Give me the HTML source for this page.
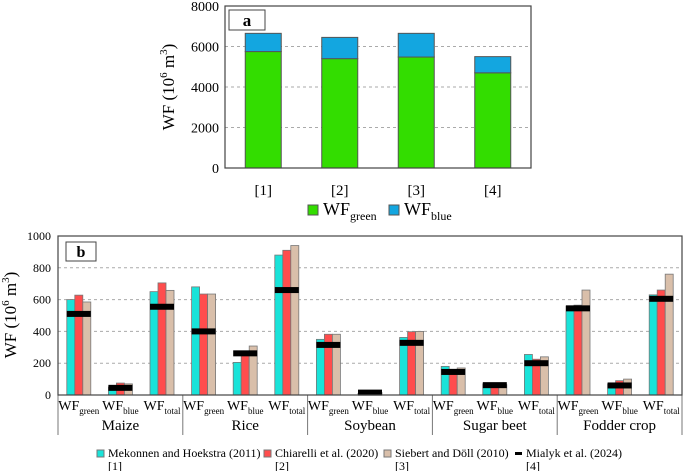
<!DOCTYPE html>
<html><head><meta charset="utf-8"><style>
body{margin:0;background:#fff;}
svg{display:block;}
svg text{font-family:"Liberation Serif","DejaVu Serif",serif;}
</style></head><body>
<svg id="svg" width="685" height="471" font-family="Liberation Serif, serif"></svg>
<script>
const aCats=["[1]","[2]","[3]","[4]"];
const aGreen=[5750,5400,5480,4700];
const aBlue=[900,1050,1170,800];
const aTicks=[0,2000,4000,6000,8000];
const bGroups=["Maize","Rice","Soybean","Sugar beet","Fodder crop"];
const bSubs=["green","blue","total"];
const bMek=[600,50,650,680,205,880,350,10,362,180,70,255,560,70,630];
const bChi=[628,75,705,635,265,910,382,15,398,162,65,225,565,90,660];
const bSie=[585,70,658,635,308,940,382,15,400,170,65,240,660,100,760];
const bMia=[510,45,555,400,262,660,315,15,328,145,62,200,545,60,605];
const bTicks=[0,200,400,600,800,1000];
const ns="http://www.w3.org/2000/svg",svg=document.getElementById("svg");
function el(t,a,txt){const e=document.createElementNS(ns,t);for(const k in a)e.setAttribute(k,a[k]);if(t==="text")e.setAttribute("font-family","Liberation Serif, serif");if(txt!==undefined)e.textContent=txt;svg.appendChild(e);return e;}
// chart a
const ax0=225,ax1=531,ay0=168,ay1=6;
const ya=v=>ay0-(v/8000)*(ay0-ay1);
const xa=i=>ax0+(i+0.5)*(ax1-ax0)/4;
aTicks.forEach(t=>{if(t>0&&t<8000){const l=el("line",{x1:ax0,x2:ax1,y1:ya(t),y2:ya(t),stroke:"#aaa","stroke-dasharray":"3,3"});}
const tx=el("text",{x:ax0-6,y:ya(t)+5,"text-anchor":"end","font-size":14},t);});
aCats.forEach((c,i)=>{const w=36,x=xa(i)-w/2;
const g=el("rect",{x:x,y:ya(aGreen[i]),width:w,height:ya(0)-ya(aGreen[i]),fill:"#33dd00",stroke:"#555","stroke-width":1});
const b=el("rect",{x:x,y:ya(aGreen[i]+aBlue[i]),width:w,height:ya(aGreen[i])-ya(aGreen[i]+aBlue[i]),fill:"#13a6e0",stroke:"#555","stroke-width":1});
const t=el("text",{x:xa(i),y:195,"text-anchor":"middle","font-size":15},c);});
el("rect",{x:ax0,y:ay1,width:ax1-ax0,height:ay0-ay1,fill:"none",stroke:"#444","stroke-width":1.2});
el("rect",{x:229,y:10,width:36,height:20,fill:"#fff",stroke:"#444"});
el("text",{x:247,y:26,"text-anchor":"middle","font-size":17,"font-weight":"bold"},"a");
const yt=el("text",{transform:"translate(174,87) rotate(-90)","text-anchor":"middle","font-size":17});
yt.innerHTML='WF (10<tspan font-size="11" dy="-7">6</tspan><tspan dy="7"> m</tspan><tspan font-size="11" dy="-7">3</tspan><tspan dy="7">)</tspan>';
el("rect",{x:308,y:205,width:10,height:10,fill:"#33dd00",stroke:"#555"});
const lg=el("text",{x:323,y:215,"font-size":18});lg.innerHTML='WF<tspan font-size="12" dy="5">green</tspan>';
el("rect",{x:389,y:205,width:10,height:10,fill:"#13a6e0",stroke:"#555"});
const lb=el("text",{x:404,y:215,"font-size":18});lb.innerHTML='WF<tspan font-size="12" dy="5">blue</tspan>';
// chart b
const bx0=58,bx1=682,by0=395,by1=236;
const yb=v=>by0-(v/1000)*(by0-by1);
const gw=(bx1-bx0)/5,sw=gw/3;
bTicks.forEach(t=>{if(t>0&&t<1000){const l=el("line",{x1:bx0,x2:bx1,y1:yb(t),y2:yb(t),stroke:"#aaa","stroke-dasharray":"3,3"});}
const tx=el("text",{x:bx0-7,y:yb(t)+4,"text-anchor":"end","font-size":12},t);});
const series=[[bMek,"#19e3d9"],[bChi,"#ff4d4d"],[bSie,"#d9bfaa"]];
for(let k=0;k<15;k++){const cx=bx0+(k+0.5)*sw,bw=8;
series.forEach((s,j)=>{const v=s[0][k];const r=el("rect",{x:cx-12+j*bw,y:yb(v),width:bw,height:yb(0)-yb(v),fill:s[1],stroke:"#777","stroke-width":0.8});});
const m=el("rect",{x:cx-12,y:yb(bMia[k])-3,width:24,height:6,fill:"#000"});
const lt=el("text",{x:cx,y:410,"text-anchor":"middle","font-size":14});lt.innerHTML='WF<tspan font-size="9" dy="4">'+bSubs[k%3]+'</tspan>';}
bGroups.forEach((g,i)=>{const x=bx0+i*gw;const l=el("line",{x1:x,x2:x,y1:by0,y2:435,stroke:"#777"});
const t=el("text",{x:x+gw/2,y:430,"text-anchor":"middle","font-size":15},g);});
el("line",{x1:bx1,x2:bx1,y1:by0,y2:435,stroke:"#777"});
el("rect",{x:bx0,y:by1,width:bx1-bx0,height:by0-by1,fill:"none",stroke:"#444","stroke-width":1.2});
el("rect",{x:66,y:242,width:30,height:19,fill:"#fff",stroke:"#444"});
el("text",{x:81,y:257,"text-anchor":"middle","font-size":16,"font-weight":"bold"},"b");
const yt2=el("text",{transform:"translate(16,315) rotate(-90)","text-anchor":"middle","font-size":17});
yt2.innerHTML='WF (10<tspan font-size="11" dy="-7">6</tspan><tspan dy="7"> m</tspan><tspan font-size="11" dy="-7">3</tspan><tspan dy="7">)</tspan>';
const leg=[["Mekonnen and Hoekstra (2011)","[1]",97,"#19e3d9"],["Chiarelli et al. (2020)","[2]",264,"#ff4d4d"],["Siebert and Döll (2010)","[3]",384,"#d9bfaa"],["Mialyk et al. (2024)","[4]",515,null]];
leg.forEach((l,i)=>{if(l[3]){el("rect",{x:l[2],y:450,width:7,height:7,fill:l[3],stroke:"#777"});}else{el("rect",{x:l[2],y:452,width:7,height:3,fill:"#000"});}
const t=el("text",{x:l[2]+11,y:457,"font-size":12},l[0]);
const t2=el("text",{x:l[2]+11,y:470,"font-size":12},l[1]);});
</script>
</body></html>
